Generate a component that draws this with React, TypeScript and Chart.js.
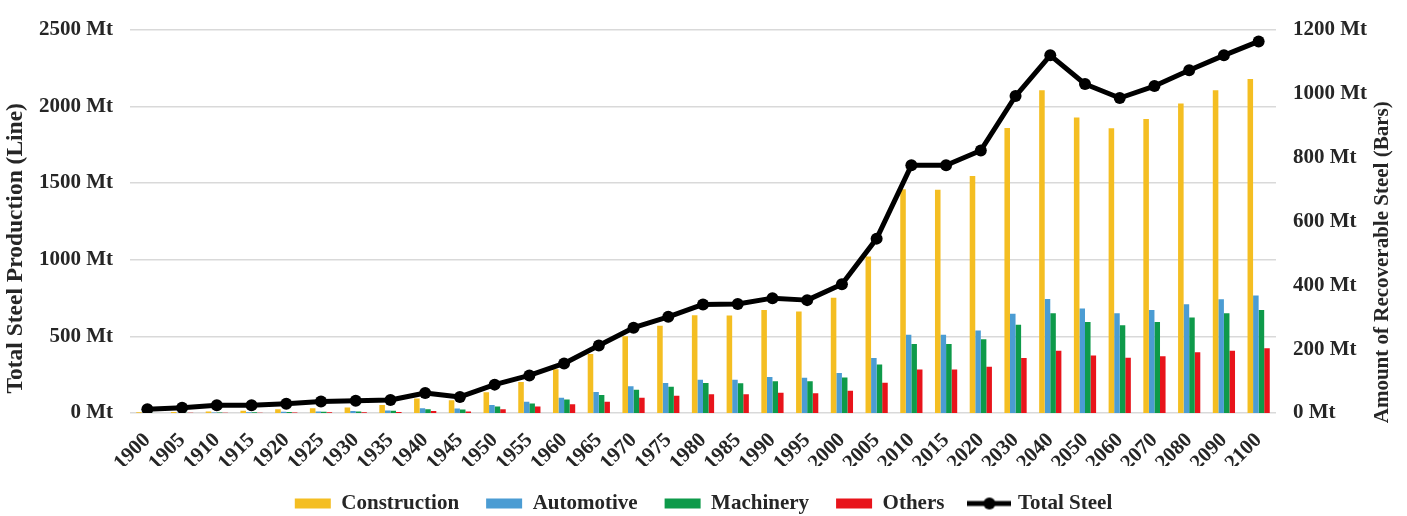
import React, { useEffect, useRef } from "react";
import { Chart, registerables } from "chart.js";

Chart.register(...registerables);

const years = [
  "1900", "1905", "1910", "1915", "1920", "1925", "1930", "1935", "1940", "1945",
  "1950", "1955", "1960", "1965", "1970", "1975", "1980", "1985", "1990", "1995",
  "2000", "2005", "2010", "2015", "2020", "2030", "2040", "2050", "2060", "2070",
  "2080", "2090", "2100",
];

const construction = [
  2, 3, 5, 7, 12, 15, 17, 25, 45, 40,
  65, 97, 137, 185, 240, 273, 306, 305, 322, 318,
  361, 490, 700, 699, 742, 892, 1010, 925, 891, 920,
  969, 1010, 1045,
];

const automotive = [
  0.5, 1, 1.5, 2, 4, 5, 6, 8, 15, 14,
  25, 35, 48, 66, 84, 94, 104, 104, 113, 110,
  125, 172, 245, 245, 258, 311, 357, 327, 312, 322,
  340, 356, 368,
];

const machinery = [
  0.5, 1, 1.5, 2, 3, 4, 5, 7, 12, 11,
  20, 30, 42, 56, 73, 82, 94, 93, 99, 99,
  111, 152, 216, 216, 231, 276, 312, 285, 275, 285,
  299, 312, 322,
];

const others = [
  0.3, 0.5, 0.8, 1, 1.5, 2, 2.5, 3.5, 6, 5,
  12, 20, 27, 35, 48, 54, 59, 59, 63, 62,
  70, 95, 136, 136, 145, 172, 195, 180, 173, 178,
  190, 195, 203,
];

const totalSteel = [
  25, 35, 50, 50, 60, 75, 80, 85, 130, 105,
  185, 245, 323, 440, 556, 627, 708, 711, 749, 736,
  840, 1137, 1615, 1615, 1712, 2067, 2332, 2145, 2054, 2132,
  2235, 2332, 2423,
];

const leftTicks = [0, 500, 1000, 1500, 2000, 2500];
const rightTicks = [0, 200, 400, 600, 800, 1000, 1200];

const leftTitle = "Total Steel Production (Line)";
const rightTitle = "Amount of Recoverable Steel (Bars)";

const FONT = "'Liberation Serif', 'Times New Roman', serif";
const TEXT = "#262626";
const W = 1407;
const H = 516;

export default function App() {
  const ref = useRef<HTMLCanvasElement>(null);

  useEffect(() => {
    const canvas = ref.current;
    if (!canvas) return;

    const marker = document.createElement("canvas");
    marker.width = 44;
    marker.height = 14;
    const m = marker.getContext("2d")!;
    m.strokeStyle = "#000";
    m.lineWidth = 5;
    m.beginPath();
    m.moveTo(0, 7);
    m.lineTo(44, 7);
    m.stroke();
    m.fillStyle = "#000";
    m.beginPath();
    m.arc(22, 7, 6, 0, Math.PI * 2);
    m.fill();

    const axisTitles = {
      id: "axisTitles",
      afterDraw(chart: any) {
        const ctx = chart.ctx;
        const area = chart.chartArea;
        ctx.save();
        ctx.fillStyle = TEXT;
        ctx.textAlign = "center";
        ctx.textBaseline = "middle";
        const draw = (t: string, x: number, y: number, size: number) => {
          ctx.save();
          ctx.font = `bold ${size}px ${FONT}`;
          ctx.translate(x, y);
          ctx.rotate(-Math.PI / 2);
          ctx.fillText(t, 0, 0);
          ctx.restore();
        };
        const midY = (area.top + area.bottom) / 2;
        draw(leftTitle, 16, midY + 27, 23.5);
        draw(rightTitle, W - 24, midY + 41, 21);
        ctx.restore();
      },
    };

    const tickFont = { family: FONT, size: 21, weight: "bold" as const };
    const xFont = { family: FONT, size: 21, weight: "bold" as const };

    const bar = (label: string, data: number[], color: string) => ({
      type: "bar" as const,
      label,
      data,
      backgroundColor: color,
      borderWidth: 0,
      yAxisID: "y1",
      order: 1,
      categoryPercentage: 0.64,
      barPercentage: 1,
    });

    const chart = new Chart(canvas, {
      data: {
        labels: years,
        datasets: [
          bar("Construction", construction, "#F4BE22"),
          bar("Automotive", automotive, "#4B9CD3"),
          bar("Machinery", machinery, "#0E9A4A"),
          bar("Others", others, "#E8141B"),
          {
            type: "line" as const,
            label: "Total Steel",
            data: totalSteel,
            borderColor: "#000",
            backgroundColor: "#000",
            borderWidth: 5,
            pointRadius: 6,
            pointBackgroundColor: "#000",
            pointBorderWidth: 0,
            borderJoinStyle: "round",
            tension: 0,
            yAxisID: "y",
            order: 0,
          } as any,
        ],
      },
      options: {
        animation: false,
        responsive: false,
        maintainAspectRatio: false,
        devicePixelRatio: 1,
        layout: { padding: { top: 26, left: 0, right: 0, bottom: 0 } },
        plugins: {
          tooltip: { enabled: false },
          title: { display: false },
          legend: {
            position: "bottom",
            maxHeight: 50,
            labels: {
              usePointStyle: true,
              pointStyleWidth: 36,
              boxHeight: 10,
              padding: 27,
              color: TEXT,
              font: { family: FONT, size: 21, weight: "bold" },
              generateLabels: (c: any) =>
                c.data.datasets.map((ds: any, i: number) => ({
                  text: ds.label,
                  fillStyle: ds.type === "line" ? "#000" : ds.backgroundColor,
                  strokeStyle: "rgba(0,0,0,0)",
                  lineWidth: 0,
                  pointStyle: ds.type === "line" ? marker : "rect",
                  datasetIndex: i,
                  hidden: false,
                  fontColor: TEXT,
                })),
            },
          },
        },
        scales: {
          x: {
            grid: { display: false },
            border: { display: false },
            ticks: {
              font: xFont,
              color: TEXT,
              minRotation: 45,
              maxRotation: 45,
              autoSkip: false,
              padding: 7,
            },
            afterFit: (s: any) => {
              s.height = 53;
            },
          },
          y: {
            position: "left",
            min: 0,
            max: 2500,
            afterBuildTicks: (s: any) => {
              s.ticks = leftTicks.map((v) => ({ value: v }));
            },
            ticks: {
              font: tickFont,
              color: TEXT,
              padding: 17,
              callback: (v: any) => `${v} Mt`,
            },
            grid: { color: "#d9d9d9", lineWidth: 1.5, drawTicks: false },
            border: { display: false },
            afterFit: (s: any) => {
              s.width = 130;
            },
          },
          y1: {
            position: "right",
            min: 0,
            max: 1200,
            afterBuildTicks: (s: any) => {
              s.ticks = rightTicks.map((v) => ({ value: v }));
            },
            ticks: {
              font: tickFont,
              color: TEXT,
              padding: 17,
              callback: (v: any) => `${v} Mt`,
            },
            grid: { display: false, drawTicks: false },
            border: { display: false },
            afterFit: (s: any) => {
              s.width = 131;
            },
          },
        },
      } as any,
      plugins: [axisTitles],
    });

    return () => {
      chart.destroy();
    };
  }, []);

  return (
    <div style={{ position: "fixed", left: 0, top: 0, width: W, height: H, background: "#fff" }}>
      <canvas ref={ref} width={W} height={H} style={{ display: "block", width: W, height: H }} />
    </div>
  );
}
